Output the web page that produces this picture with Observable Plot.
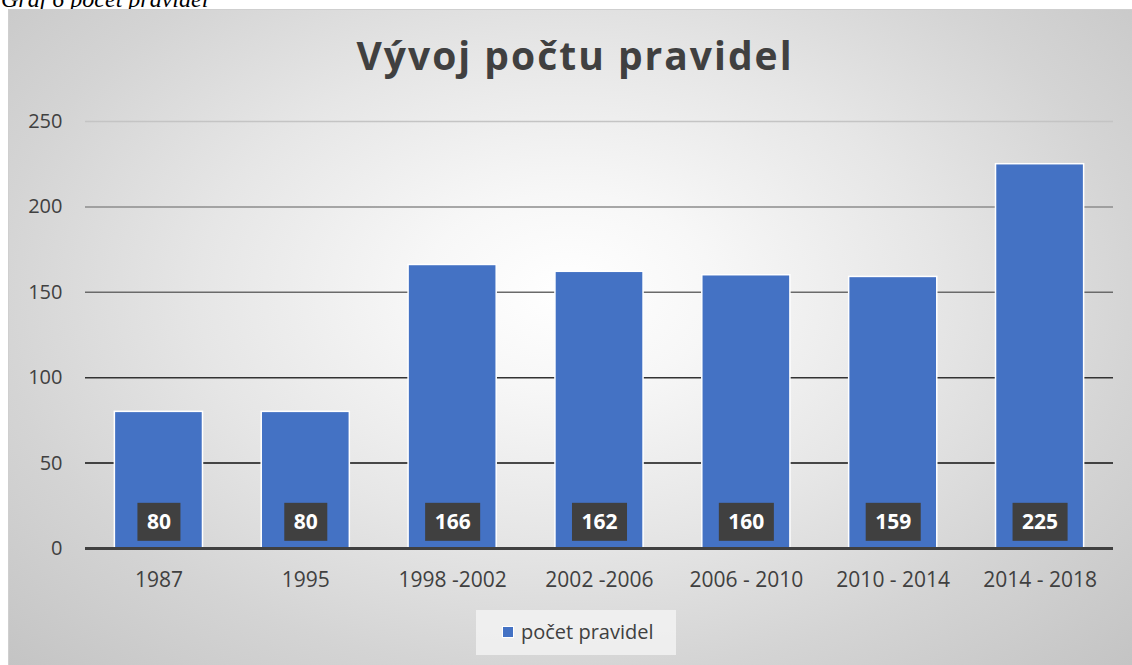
<!DOCTYPE html>
<html>
<head>
<meta charset="utf-8">
<script src="https://cdn.jsdelivr.net/npm/d3@7"></script>
<script src="https://cdn.jsdelivr.net/npm/@observablehq/plot@0.6"></script>
<style>
  html, body { margin: 0; padding: 0; width: 1132px; height: 665px; overflow: hidden; background: #fff; }
  #caption { position: absolute; left: 1px; top: -13px; font-family: "Liberation Serif", "DejaVu Serif", serif; font-style: italic; font-size: 24px; line-height: 24px; color: #000; white-space: nowrap; }
  #frame { position: absolute; left: 8px; top: 9px; width: 1140px; height: 670px; box-sizing: border-box; border: 1px solid #cfcfcf;
    background: radial-gradient(ellipse farthest-corner at 559px 282px, #ffffff 0%, #f7f7f7 18%, #e6e6e6 45%, #d4d4d4 70%, #c2c2c2 100%); }
  #title { position: absolute; left: 0; top: 35px; width: 1150px; text-align: center; font-family: "Open Sans", sans-serif; font-weight: bold; font-size: 39px; line-height: 39px; letter-spacing: 2px; color: #404040; white-space: nowrap; }
  #chart { position: absolute; left: 0; top: 90px; }
  #legend { position: absolute; left: 476px; top: 610px; width: 200px; height: 45px; background: rgba(242,242,242,0.85); }
  #legend .sw { position: absolute; left: 26px; top: 16px; width: 10px; height: 10px; background: #4472c4; border: 1px solid #fff; }
  #legend .lt { position: absolute; left: 45px; top: 12px; font-family: "Open Sans", sans-serif; font-size: 20px; line-height: 20px; color: #404040; white-space: nowrap; }
</style>
</head>
<body>
<div id="caption">Graf 6 počet pravidel</div>
<div id="frame"></div>
<div id="title">Vývoj počtu pravidel</div>
<div id="chart"></div>
<div id="legend"><div class="sw"></div><div class="lt">počet pravidel</div></div>
<script>
const categories = ["1987", "1995", "1998 -2002", "2002 -2006", "2006 - 2010", "2010 - 2014", "2014 - 2018"];
const values = [80, 80, 166, 162, 160, 159, 225];
const yTicks = [0, 50, 100, 150, 200, 250];
const seriesName = "počet pravidel";

const data = categories.map((c, i) => ({cat: c, value: values[i]}));
const gridStroke = {50: "#111111", 100: "#333333", 150: "#6a6a6a", 200: "#8c8c8c", 250: "#c4c4c4"};

const chart = Plot.plot({
  width: 1132,
  height: 520,
  marginTop: 31,
  marginBottom: 62,
  marginLeft: 85,
  marginRight: 19,
  style: {background: "transparent", fontFamily: "Open Sans, sans-serif", fontSize: "20px", color: "#404040", overflow: "visible"},
  x: {domain: categories, paddingInner: 0.4, paddingOuter: 0.2, round: false, label: null, tickSize: 0, tickPadding: 24},
  y: {domain: [0, 250], ticks: yTicks, label: null, tickSize: 0, tickPadding: 23},
  marks: [
    Plot.ruleY(yTicks.filter(d => d > 0), {stroke: d => gridStroke[d], strokeWidth: 1.5}),
    Plot.barY(data, {x: "cat", y: "value", fill: "#4472c4", stroke: "#ffffff", strokeWidth: 1.5}),
    Plot.ruleY([0], {stroke: "#404040", strokeWidth: 3}),
    Plot.text(data, {x: "cat", y: 0, text: d => String(d.value), dy: -26, fill: "#ffffff", fontWeight: "bold", fontSize: 21, className: "vlabel"})
  ]
});
chart.querySelectorAll("g[aria-label='x-axis tick label'] text, g[aria-label='x-axis tick label']").forEach(el => el.style.fontSize = "21px");
document.getElementById("chart").appendChild(chart);

// dark boxes behind value labels, in the same coordinate system as each label
const g = chart.querySelector("g.vlabel");
if (g) {
  Array.from(g.querySelectorAll("text")).forEach(t => {
    const bb = t.getBBox();
    const cx = bb.x + bb.width / 2;
    const cy = bb.y + bb.height / 2 + 0.6;
    const w = bb.width + 19;
    const r = document.createElementNS("http://www.w3.org/2000/svg", "rect");
    r.setAttribute("x", cx - w / 2);
    r.setAttribute("y", cy - 19);
    r.setAttribute("width", w);
    r.setAttribute("height", 38);
    r.setAttribute("fill", "#404040");
    const tr = t.getAttribute("transform");
    if (tr) r.setAttribute("transform", tr);
    g.insertBefore(r, t);
  });
}
</script>
</body>
</html>
